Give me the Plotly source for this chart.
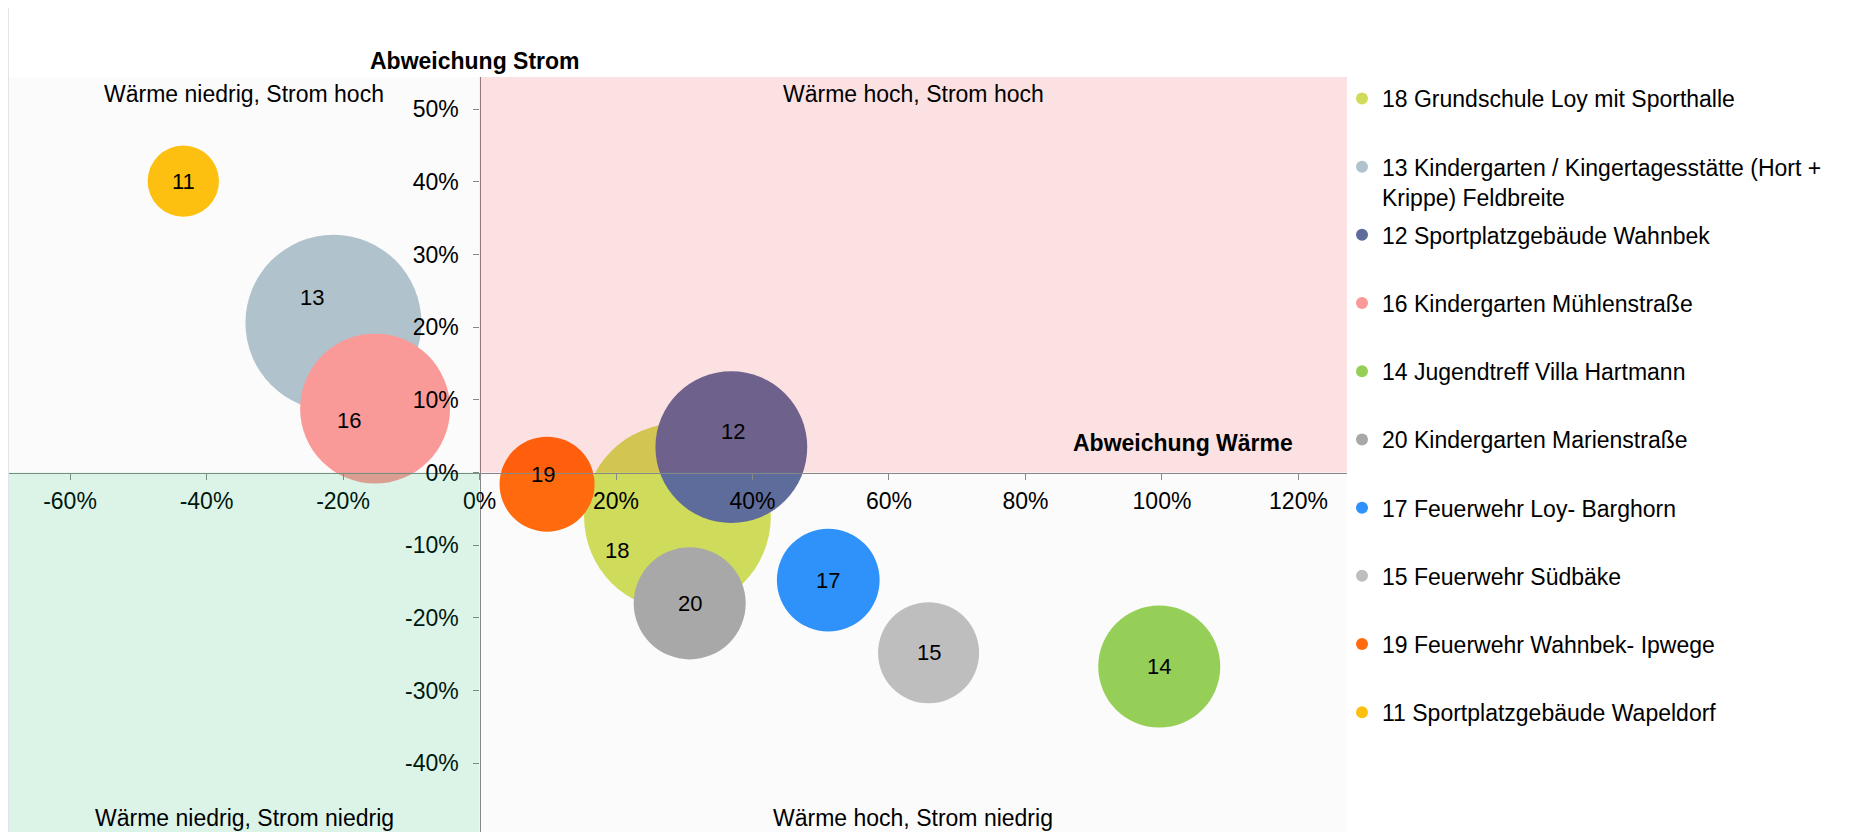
import plotly.graph_objects as go

# ---------------- data ----------------
ids = ["18", "13", "12", "16", "14", "20", "17", "15", "19", "11"]
names = [
    "Grundschule Loy mit Sporthalle",
    "Kindergarten / Kingertagesstätte (Hort +<br>Krippe) Feldbreite",
    "Sportplatzgebäude Wahnbek",
    "Kindergarten Mühlenstraße",
    "Jugendtreff Villa Hartmann",
    "Kindergarten Marienstraße",
    "Feuerwehr Loy- Barghorn",
    "Feuerwehr Südbäke",
    "Feuerwehr Wahnbek- Ipwege",
    "Sportplatzgebäude Wapeldorf",
]
abweichung_waerme = [0.290, -0.214, 0.369, -0.153, 0.996, 0.308, 0.511, 0.658, 0.099, -0.434]
abweichung_strom = [-0.061, 0.206, 0.035, 0.088, -0.267, -0.180, -0.148, -0.248, -0.016, 0.401]
bubble_size = [100.0, 88.9, 66.1, 64.5, 42.7, 36.0, 30.3, 29.3, 25.9, 14.6]

x_tickvals = [-0.6, -0.4, -0.2, 0.0, 0.2, 0.4, 0.6, 0.8, 1.0, 1.2]
x_ticktext = ["-60%", "-40%", "-20%", "0%", "20%", "40%", "60%", "80%", "100%", "120%"]
y_tickvals = [-0.4, -0.3, -0.2, -0.1, 0.0, 0.1, 0.2, 0.3, 0.4, 0.5]
y_ticktext = ["-40%", "-30%", "-20%", "-10%", "0%", "10%", "20%", "30%", "40%", "50%"]

quadrant_labels = ["Wärme niedrig, Strom hoch", "Wärme hoch, Strom hoch",
                   "Wärme niedrig, Strom niedrig", "Wärme hoch, Strom niedrig"]

# ---------------- styles ----------------
colors = ["#CFDC5B", "#B0C2CC", "#5E6C9B", "#FA9A98", "#95CF58",
          "#A8A8A8", "#2E92FA", "#BEBEBE", "#FF6A0E", "#FDC010"]
label_shift = {"13": (-21, 25), "16": (-26, -12), "18": (-60, -34),
               "12": (2, 16), "19": (-4, 10)}

FONT = "Liberation Sans, Arial, sans-serif"
OFF = 8                      # default page margin of the html body
W, H = 1860 - OFF, 832 - OFF
PLOT_L, PLOT_R, PLOT_T = 9 - OFF, 1347 - OFF, 77 - OFF
X_RANGE = [-0.6894, 1.2711]
Y_RANGE = [-0.4946, 0.5443]
MAX_DIAM = 186.7

fig = go.Figure()
sizeref = max(bubble_size) / (2 * (MAX_DIAM / 2) ** 2)
for i in range(len(ids)):
    fig.add_trace(go.Scatter(
        x=[abweichung_waerme[i]], y=[abweichung_strom[i]],
        mode="markers",
        name=f"{ids[i]} {names[i]}" + ("" if "<br>" in names[i] else "<br>\u00a0"),
        legendgroup=ids[i],
        marker=dict(size=[bubble_size[i]], sizemode="area", sizeref=sizeref,
                    color=colors[i], line=dict(width=0), opacity=1),
        hoverinfo="skip",
    ))

annotations = []
for i in range(len(ids)):
    dx, dy = label_shift.get(ids[i], (0, 0))
    annotations.append(dict(x=abweichung_waerme[i], y=abweichung_strom[i], xref="x", yref="y",
                            text=ids[i], showarrow=False, xshift=dx, yshift=dy,
                            font=dict(family=FONT, size=22, color="#000")))

# axis titles
annotations.append(dict(x=0, y=1, xref="x", yref="paper", text="<b>Abweichung Strom</b>",
                        showarrow=False, xanchor="center", yanchor="middle", yshift=15.6, xshift=-4.5,
                        font=dict(family=FONT, size=23, color="#000")))
annotations.append(dict(x=1.2, y=0, xref="x", yref="y", text="<b>Abweichung Wärme</b>",
                        showarrow=False, xanchor="right", yanchor="middle", yshift=29.4, xshift=-3,
                        font=dict(family=FONT, size=23, color="#000")))
# quadrant labels
qx = [X_RANGE[0] / 2, X_RANGE[1] / 2, X_RANGE[0] / 2, X_RANGE[1] / 2]
qy = [1, 1, 0, 0]
qs = [-16.7, -16.7, 14, 14]
for t, x, y, s in zip(quadrant_labels, qx, qy, qs):
    annotations.append(dict(x=x, y=y, xref="x", yref="paper", text=t, showarrow=False,
                            xanchor="center", yanchor="middle", yshift=s,
                            font=dict(family=FONT, size=23, color="#000")))

plot_w = PLOT_R - PLOT_L
plot_h = H - PLOT_T
frame_x = (0 - PLOT_L) / plot_w
shapes = [
    dict(type="rect", xref="x", yref="y", x0=0, x1=X_RANGE[1], y0=0, y1=Y_RANGE[1],
         fillcolor="rgba(255,0,0,0.10)", line=dict(width=0), layer="above"),
    dict(type="rect", xref="x", yref="y", x0=X_RANGE[0], x1=0, y0=Y_RANGE[0], y1=0,
         fillcolor="rgba(0,200,100,0.12)", line=dict(width=0), layer="above"),
    # chart-area frame (left edge)
    dict(type="line", xref="paper", yref="paper", x0=frame_x, x1=frame_x, y0=-1, y1=2,
         line=dict(color="#D3DDE4", width=1.5), layer="below"),
]

xpos = (0 - Y_RANGE[0]) / (Y_RANGE[1] - Y_RANGE[0])
ypos = (0 - X_RANGE[0]) / (X_RANGE[1] - X_RANGE[0])

axis_common = dict(showgrid=False, zeroline=False, showline=True, linecolor="#878787", linewidth=1.3,
                   ticks="outside", ticklen=6, tickcolor="#878787", tickwidth=1.3,
                   tickfont=dict(family=FONT, size=23, color="#000"), anchor="free", fixedrange=True)

legend_left_px = 1342 - OFF
legend_top_px = 77 - OFF
fig.update_layout(
    width=W, height=H,
    margin=dict(l=PLOT_L, r=W - PLOT_R, t=PLOT_T, b=0, autoexpand=False),
    paper_bgcolor="#FFFFFF", plot_bgcolor="#FBFBFB",
    xaxis=dict(range=X_RANGE, position=xpos, tickvals=x_tickvals, ticktext=x_ticktext,
               ticklabelstandoff=2, **axis_common),
    yaxis=dict(range=Y_RANGE, position=ypos, tickvals=y_tickvals, ticktext=y_ticktext,
               ticklabelstandoff=10, **axis_common),
    showlegend=True,
    legend=dict(x=(legend_left_px - PLOT_L) / plot_w, xanchor="left",
                y=(H - legend_top_px) / plot_h, yanchor="top",
                traceorder="grouped", tracegroupgap=5.4, itemsizing="constant", valign="top",
                bgcolor="rgba(0,0,0,0)", font=dict(family=FONT, size=23, color="#000")),
    annotations=annotations, shapes=shapes,
    font=dict(family=FONT),
)

fig.write_html("out.html")
